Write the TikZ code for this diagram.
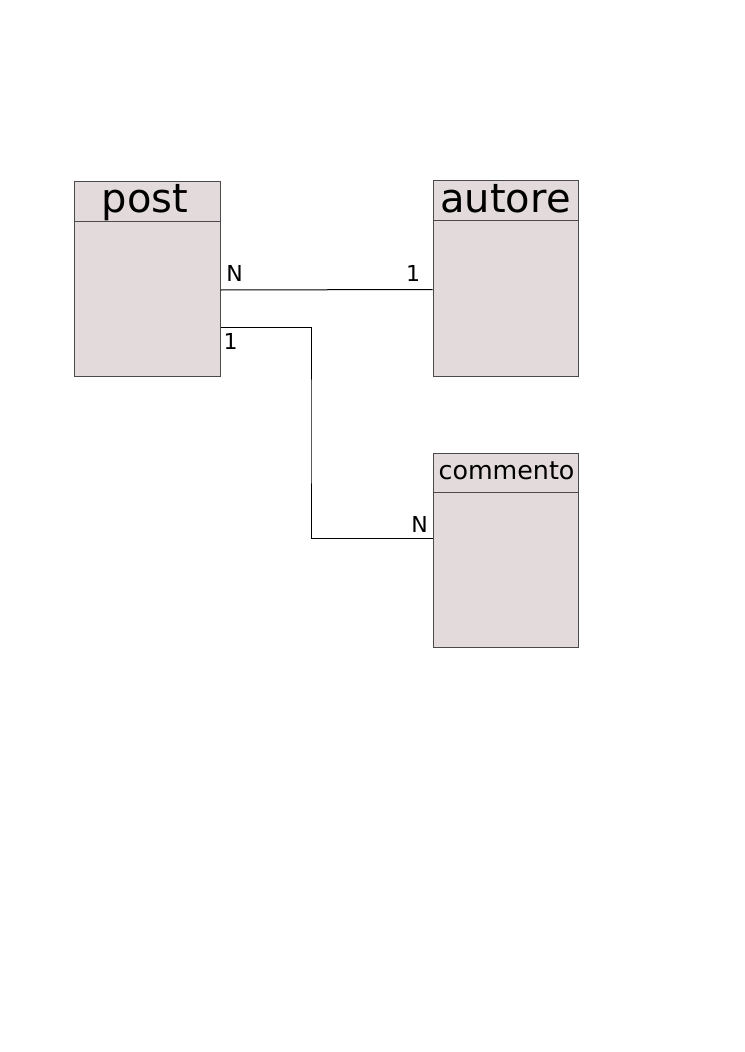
\documentclass[tikz,border=0pt]{standalone}
\usepackage{fontspec}
\setmainfont{DejaVu Sans}
\definecolor{entfill}{HTML}{E3DBDB}
\definecolor{entline}{HTML}{4A4A4A}
\begin{document}
\begin{tikzpicture}[x=0.75pt,y=-0.75pt,
  entity/.style={draw=entline,fill=entfill,line width=0.75pt,inner sep=0pt,minimum width=#1},
  title/.style={inner sep=0pt,font=\fontsize{30}{35}\selectfont},
  smalltitle/.style={inner sep=0pt,font=\fontsize{19}{23}\selectfont},
  card/.style={inner sep=0pt,font=\fontsize{16.5}{19}\selectfont},
  conn/.style={draw=black,line width=0.75pt},
  divider/.style={draw=entline,line width=0.75pt}]
\useasboundingbox[fill=white] (0,0) rectangle (744,1052);
% post
\node[entity=109.5pt,minimum height=146.25pt] (post) at (147,278.5) {};
\draw[divider] ([yshift=-30.75pt]post.north west) -- ([yshift=-30.75pt]post.north east);
\node[title] (posttitle) at (145,203) {post};
% autore
\node[entity=108.75pt,minimum height=147pt] (autore) at (505.5,278) {};
\draw[divider] ([yshift=-30.75pt]autore.north west) -- ([yshift=-30.75pt]autore.north east);
\node[title] (autoretitle) at (505.5,199) {autore};
% commento
\node[entity=108.75pt,minimum height=145.5pt] (commento) at (505.5,550) {};
\draw[divider] ([yshift=-30pt]commento.north west) -- ([yshift=-30pt]commento.north east);
\node[smalltitle] (commentotitle) at (506.5,471) {commento};
% connectors
\draw[conn] ([yshift=-8.625pt]post.east) -- ([yshift=-8.625pt]autore.west);
\coordinate (bend) at (311,430);
\draw[conn] ([yshift=-36.375pt]post.east) -| (bend) |- ([yshift=9pt]commento.west);
% cardinalities
\node[card] (c1) at (234.5,273) {N};
\node[card] (c2) at (413,273) {1};
\node[card] (c3) at (230.5,341) {1};
\node[card] (c4) at (419.5,524) {N};
\end{tikzpicture}
\end{document}
